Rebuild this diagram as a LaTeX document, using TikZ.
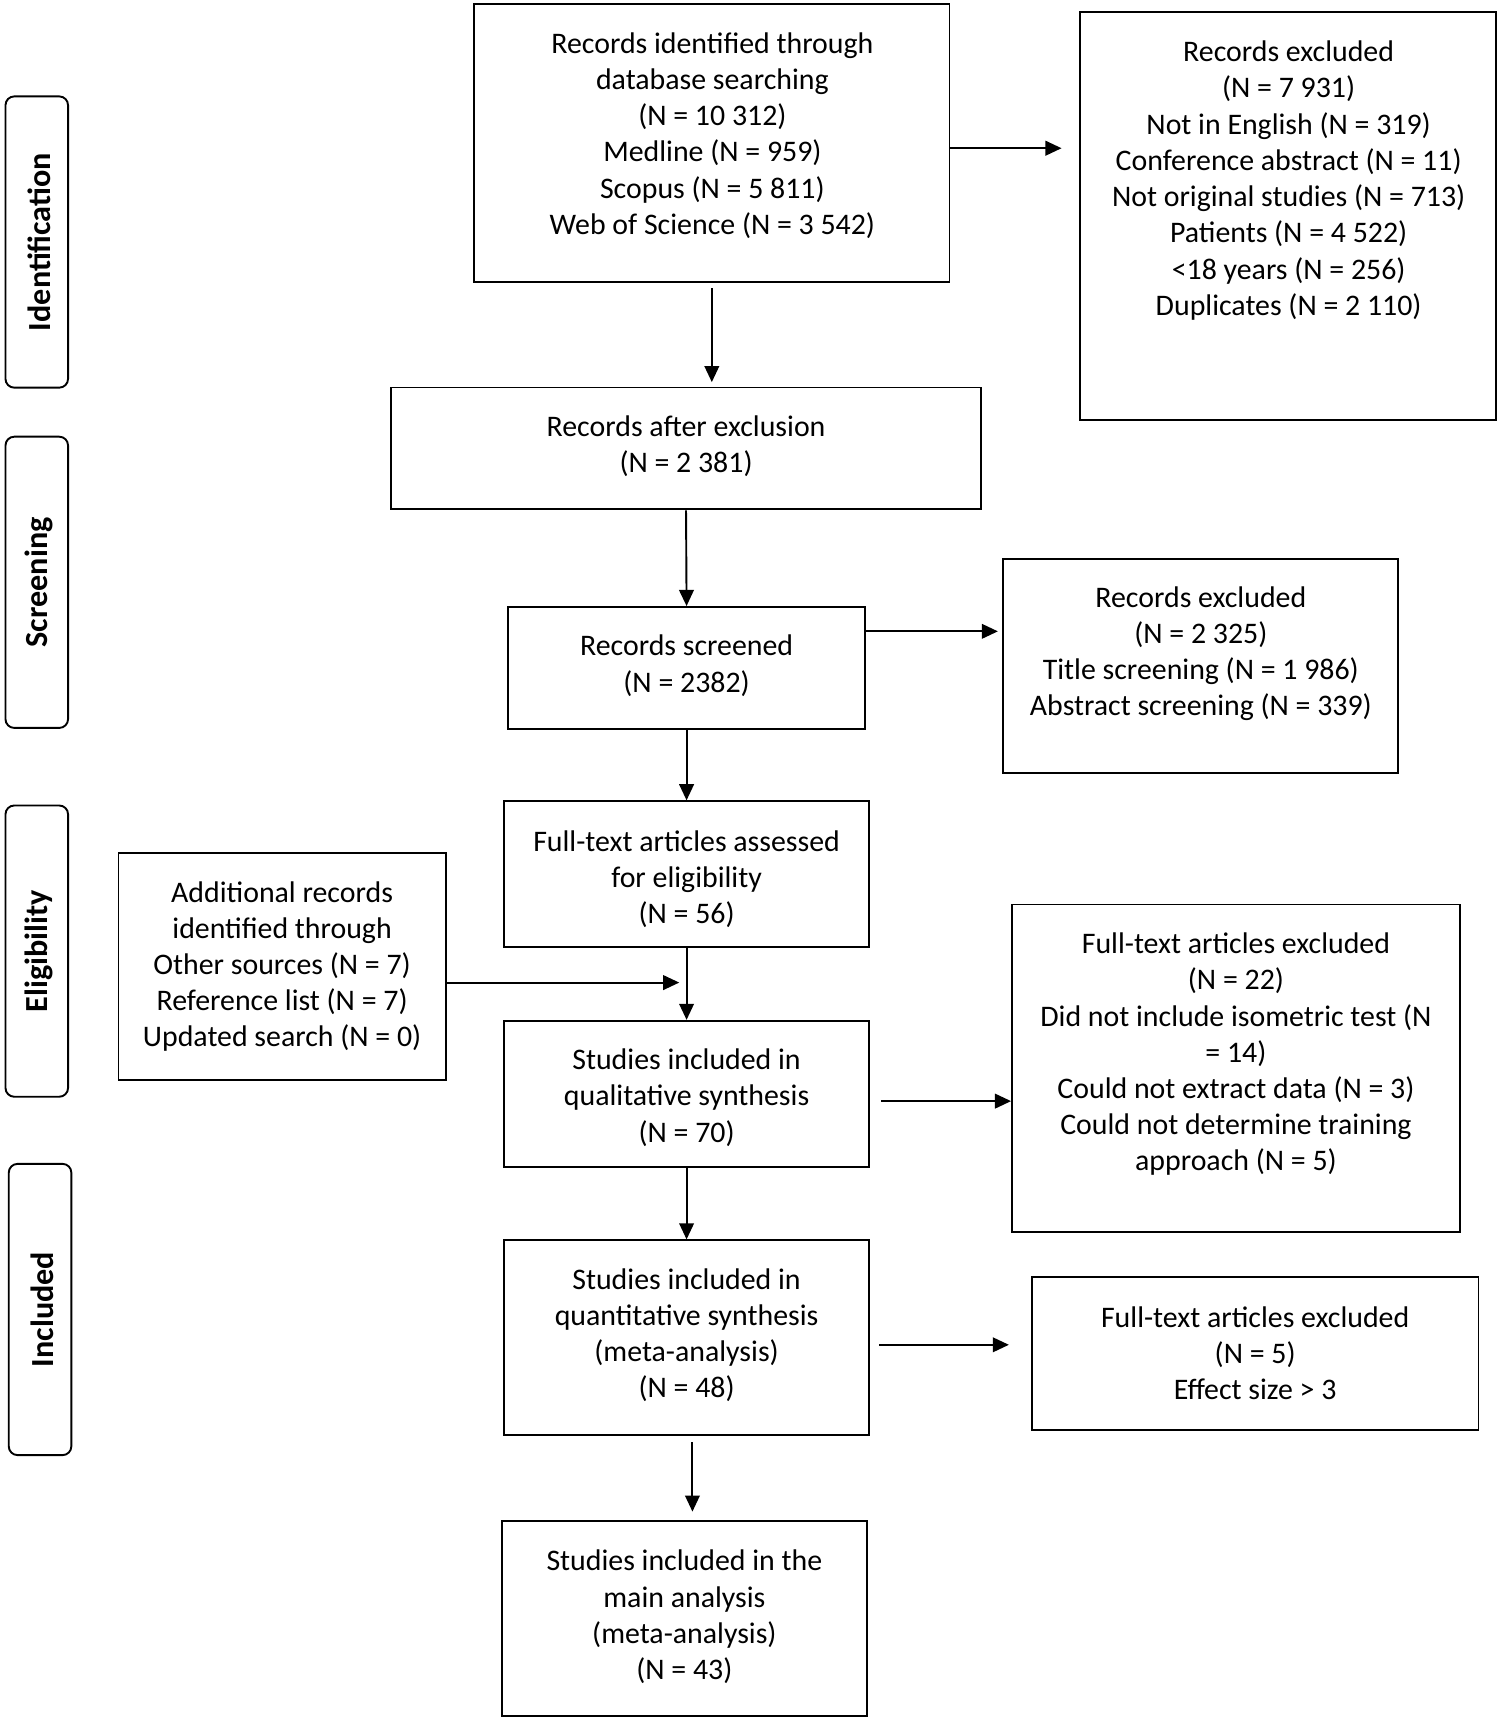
\documentclass[tikz,border=0pt]{standalone}
\usepackage{fontspec}
\setmainfont{Carlito}
\usetikzlibrary{arrows.meta}
\begin{document}
\begin{tikzpicture}[x=0.75pt,y=-0.75pt,
    box/.style={draw, line width=1.3pt, inner sep=0pt},
    txt/.style={align=center, font=\fontsize{20.4}{24.75}\selectfont, inner sep=0pt},
    lane/.style={draw, line width=1.3pt, rounded corners=6pt, minimum width=42.75pt, minimum height=199pt},
    lanetxt/.style={rotate=90, font=\fontsize{22}{26}\selectfont\bfseries},
    arr/.style={-{Triangle[length=11pt,width=10pt]}, line width=1.3pt}]
    \useasboundingbox (0,0) rectangle (1366,1567);

    % phase lanes
    \node[lane] (lid) at (33.5,220.5) {};
    \node[lanetxt] at ([xshift=1.5pt]lid.center) {Identification};
    \node[lane] (lsc) at (33.5,530.5) {};
    \node[lanetxt] at ([xshift=1.5pt]lsc.center) {Screening};
    \node[lane] (lel) at (33.5,866.5) {};
    \node[lanetxt] at ([xshift=1.5pt]lel.center) {Eligibility};
    \node[lane] (lin) at (36.5,1193) {};
    \node[lanetxt] at ([xshift=1.5pt]lin.center) {Included};

    % boxes
    \node[box, minimum width=324.75pt, minimum height=189.75pt] (a) at (648.5,130.5) {};
    \node[txt] at (649,123.5) {Records identified through\\database searching\\(N = 10 312)\\Medline (N = 959)\\Scopus (N = 5 811)\\Web of Science (N = 3 542)};
    \node[box, minimum width=284.25pt, minimum height=279pt] (b) at (1173.5,197) {};
    \node[txt] at (1174,164.5) {Records excluded\\(N = 7 931)\\Not in English (N = 319)\\Conference abstract (N = 11)\\Not original studies (N = 713)\\Patients (N = 4 522)\\<18 years (N = 256)\\Duplicates (N = 2 110)};
    \node[box, minimum width=403.5pt, minimum height=83.25pt] (c) at (625,408.5) {};
    \node[txt] at (625,406.5) {Records after exclusion\\(N = 2 381)};
    \node[box, minimum width=243.75pt, minimum height=83.25pt] (d) at (625.5,608.5) {};
    \node[txt] at (625.5,606.5) {Records screened\\(N = 2382)};
    \node[box, minimum width=270pt, minimum height=146.25pt] (e) at (1094,606.5) {};
    \node[txt] at (1094,595.5) {Records excluded\\(N = 2 325)\\Title screening (N = 1 986)\\Abstract screening (N = 339)};
    \node[box, minimum width=249.75pt, minimum height=99.75pt] (f) at (625.5,796.5) {};
    \node[txt] at (625.5,801) {Full-text articles assessed\\for eligibility\\(N = 56)};
    \node[box, minimum width=223.5pt, minimum height=155.25pt] (g) at (257,880.5) {};
    \node[txt] at (257,880.5) {Additional records\\identified through\\Other sources (N = 7)\\Reference list (N = 7)\\Updated search (N = 0)};
    \node[box, minimum width=249.75pt, minimum height=99.75pt] (h) at (625.5,996.5) {};
    \node[txt] at (625.5,1000) {Studies included in\\qualitative synthesis\\(N = 70)};
    \node[box, minimum width=306pt, minimum height=223.5pt] (i) at (1126,973) {};
    \node[txt] at (1126,960.5) {Full-text articles excluded\\(N = 22)\\Did not include isometric test (N\\= 14)\\Could not extract data (N = 3)\\Could not determine training\\approach (N = 5)};
    \node[box, minimum width=249.75pt, minimum height=132.75pt] (j) at (625.5,1218.5) {};
    \node[txt] at (625.5,1216.5) {Studies included in\\quantitative synthesis\\(meta-analysis)\\(N = 48)};
    \node[box, minimum width=305.25pt, minimum height=105pt] (k) at (1143.5,1233) {};
    \node[txt] at (1143.5,1233) {Full-text articles excluded\\(N = 5)\\Effect size > 3};
    \node[box, minimum width=249.75pt, minimum height=132.75pt] (l) at (623.5,1474.5) {};
    \node[txt] at (623.5,1473) {Studies included in the\\main analysis\\(meta-analysis)\\(N = 43)};

    % connectors
    \draw[arr, shorten <=3.5pt, shorten >=3pt] (a.south) -- (a.south |- c.north);
    \draw[arr, shorten >=12pt] ([yshift=-3.4pt]a.east) -- ([yshift=-3.4pt]a.east -| b.west);
    \draw[arr] (c.south) -- (d.north);
    \draw[arr, shorten >=3pt] ([yshift=25pt]d.east) -- ([yshift=25pt]d.east -| e.west);
    \draw[arr] (d.south) -- (f.north);
    \draw[arr] (f.south) -- (h.north);
    \draw[arr, shorten >=5pt] ([yshift=-11pt]g.east) -- ([yshift=-11pt]g.east -| f.south);
    \draw[arr, shorten <=7.5pt] ([yshift=-5pt]h.east) -- ([yshift=-5pt]h.east -| i.west);
    \draw[arr] (h.south) -- (j.north);
    \draw[arr, shorten <=6pt, shorten >=15pt] ([yshift=-5pt]j.east) -- ([yshift=-5pt]j.east -| k.west);
    \draw[arr, shorten <=4.5pt, shorten >=6pt] ([xshift=4pt]j.south) -- ([xshift=4pt]j.south |- l.north);
\end{tikzpicture}
\end{document}
